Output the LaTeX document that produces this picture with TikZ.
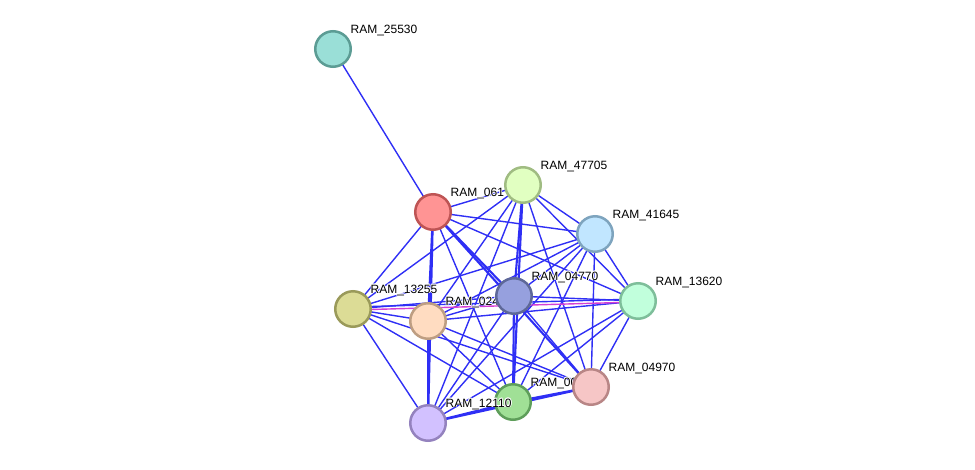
\documentclass[tikz,border=0pt]{standalone}
\usepackage{fontspec}
\setmainfont{Liberation Sans}
\pgfdeclarelayer{edges}
\pgfsetlayers{edges,main}
\definecolor{edgeblue}{HTML}{2F2FF5}
\definecolor{edgemag}{HTML}{D43FD4}
\definecolor{fA}{HTML}{9ADFD7}\definecolor{dA}{HTML}{5C9C94}
\definecolor{fB}{HTML}{FF9494}\definecolor{dB}{HTML}{BE5454}
\definecolor{fC}{HTML}{E1FFC1}\definecolor{dC}{HTML}{A0BC82}
\definecolor{fD}{HTML}{C1E6FF}\definecolor{dD}{HTML}{7EA4BE}
\definecolor{fE}{HTML}{C1FFDC}\definecolor{dE}{HTML}{7EBE9A}
\definecolor{fF}{HTML}{96A0DE}\definecolor{dF}{HTML}{5E6898}
\definecolor{fG}{HTML}{DCDC96}\definecolor{dG}{HTML}{9A9A5A}
\definecolor{fH}{HTML}{FFDCC1}\definecolor{dH}{HTML}{BE9E82}
\definecolor{fI}{HTML}{A0E096}\definecolor{dI}{HTML}{5E9E5A}
\definecolor{fJ}{HTML}{F6C6C6}\definecolor{dJ}{HTML}{B88686}
\definecolor{fK}{HTML}{D2C1FF}\definecolor{dK}{HTML}{9482BE}
\newcommand\halocopy[3]{\rlap{\hspace*{#1}\raisebox{#2}{\textcolor{white}{#3}}}}
\newcommand\halo[1]{%
  \halocopy{0.8pt}{0pt}{#1}\halocopy{-0.8pt}{0pt}{#1}%
  \halocopy{0pt}{0.8pt}{#1}\halocopy{0pt}{-0.8pt}{#1}%
  \halocopy{0.6pt}{0.6pt}{#1}\halocopy{-0.6pt}{0.6pt}{#1}%
  \halocopy{0.6pt}{-0.6pt}{#1}\halocopy{-0.6pt}{-0.6pt}{#1}%
  #1}
\begin{document}
\begin{tikzpicture}[x=1pt,y=-1pt,
  prot/.style={circle, minimum size=35.5pt, inner sep=0pt, line width=2.5pt},
  lbl/.style={anchor=base west, xshift=4pt, yshift=2.5pt, inner sep=0pt,
    font=\fontsize{12}{14}\selectfont, text=black},
  lnk/.style={draw=edgeblue, line width=1.4pt},
  heavy/.style={draw=edgeblue, line width=2.1pt}]
\useasboundingbox (0,0) rectangle (975,469);
\node[prot, fill=fA, draw=dA, label={[lbl]45:\halo{RAM\_25530}}] (A) at (333,49) {};
\node[prot, fill=fB, draw=dB, label={[lbl]45:\halo{RAM\_061}}] (B) at (433,212) {};
\node[prot, fill=fC, draw=dC, label={[lbl]45:\halo{RAM\_47705}}] (C) at (523,185) {};
\node[prot, fill=fD, draw=dD, label={[lbl]45:\halo{RAM\_41645}}] (D) at (595,234) {};
\node[prot, fill=fE, draw=dE, label={[lbl]45:\halo{RAM\_13620}}] (E) at (638,301) {};
\node[prot, fill=fG, draw=dG, label={[lbl]45:\halo{RAM\_13255}}] (G) at (353,309) {};
\node[prot, fill=fH, draw=dH, label={[lbl]45:\halo{RAM\_024}}] (H) at (428,321) {};
\node[prot, fill=fF, draw=dF, label={[lbl]45:\halo{RAM\_04770}}] (F) at (514,296) {};
\node[prot, fill=fI, draw=dI, label={[lbl]45:\halo{RAM\_00}}] (I) at (513,402) {};
\node[prot, fill=fJ, draw=dJ, label={[lbl]45:\halo{RAM\_04970}}] (J) at (591,387) {};
\node[prot, fill=fK, draw=dK, label={[lbl]45:\halo{RAM\_12110}}] (K) at (428,423) {};
\begin{pgfonlayer}{edges}
\draw[lnk] (A.center) -- (B.center);
\foreach \u/\v in {B/C,B/D,B/E,B/G,B/I,
  C/D,C/E,C/G,C/H,C/J,C/K,
  D/E,D/F,D/G,D/H,D/I,D/J,D/K,
  E/F,E/H,E/I,E/J,E/K,
  F/G,F/H,F/J,F/K,
  G/H,G/I,G/J,G/K,
  H/I,H/J}
  \draw[lnk] (\u.center) -- (\v.center);
\foreach \u/\v in {B/F,B/H,B/J,B/K,C/F,C/I,F/I,I/K,I/J,J/K,H/K}
  \draw[heavy] (\u.center) -- (\v.center);
\draw[lnk] ([yshift=2pt]G.center) -- ([yshift=2pt]E.center);
\draw[draw=edgemag, line width=1.4pt] ([yshift=-1pt]G.center) -- ([yshift=-1pt]E.center);
\end{pgfonlayer}
\end{tikzpicture}
\end{document}
